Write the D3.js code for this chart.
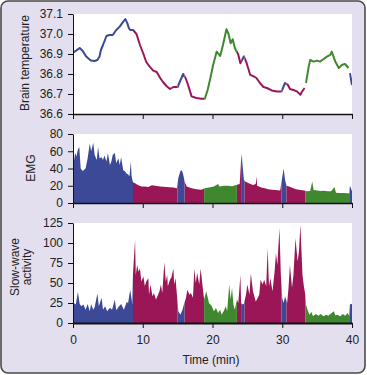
<!DOCTYPE html>
<html><head><meta charset="utf-8">
<script src="https://cdn.jsdelivr.net/npm/d3@7"></script>
<style>
body{margin:0;background:#fff}
text{font-family:"Liberation Sans",Arial,sans-serif}
</style>
</head><body><svg id="c" width="367" height="375"></svg>
<script>
// Sleep stages (shared by all panels)
const stageStart = [0, 8.6, 15.0, 16.0, 18.8, 23.5, 24.1, 24.6, 29.9, 30.6, 33.3, 39.6];
const stageEnd   = [8.6, 15.0, 16.0, 18.8, 23.5, 24.1, 24.6, 29.9, 30.6, 33.3, 39.6, 40];
const stageType  = ["wake","sws","wake","sws","rem","sws","wake","sws","wake","sws","rem","wake"];
const stageColor = {wake:"#3b4997", sws:"#9b1656", rem:"#3f8830"};

// Brain temperature (°C); null = gap in recording
const tempTime  = [0,0.5,0.96,1.4,1.9,2.3,2.6,3.1,3.5,3.8,4.0,4.3,4.8,5.2,5.7,6.2,6.7,7.1,7.5,7.8,8.0,8.2,8.6,9.1,9.6,10.1,10.5,11.0,11.5,12.0,12.5,12.9,13.4,13.9,14.4,15.0,15.3,15.8,16.2,16.5,17.0,17.7,18.4,18.9,19.3,19.7,20.1,20.6,21.1,21.5,22.0,22.3,22.6,22.9,23.2,23.7,24.0,24.5,24.9,25.4,25.9,26.3,26.8,27.3,27.8,28.5,29.2,29.9,30.4,30.8,31.1,31.6,32.1,32.6,32.8,33.2,33.3,33.4,33.8,34.0,34.5,35.0,35.4,35.9,36.4,36.9,37.1,37.6,38.1,38.6,39.0,39.5,39.6,39.7,40];
const tempValue = [36.907,36.918,36.93,36.915,36.887,36.875,36.867,36.865,36.87,36.887,36.92,36.945,36.99,36.995,36.995,37.02,37.037,37.057,37.075,37.053,37.03,37.02,37.02,37.0,36.945,36.90,36.86,36.837,36.817,36.81,36.78,36.76,36.74,36.725,36.735,36.735,36.76,36.8,36.775,36.745,36.688,36.68,36.676,36.676,36.72,36.78,36.846,36.912,36.89,36.945,37.024,37.0,36.954,36.974,36.93,36.896,36.854,36.888,36.854,36.796,36.788,36.78,36.755,36.735,36.73,36.718,36.713,36.713,36.755,36.746,36.725,36.72,36.713,36.696,36.71,36.73,null,36.755,36.838,36.87,36.862,36.867,36.862,36.874,36.887,36.896,36.912,36.862,36.83,36.846,36.85,36.83,null,36.804,36.745];

// EMG
const emgTime  = [0,0.3,0.5,0.7,0.9,1.1,1.4,1.8,2.1,2.4,2.6,2.9,3.1,3.4,3.6,3.8,4.1,4.3,4.5,4.8,5.0,5.3,5.5,5.7,6.0,6.2,6.5,6.7,6.9,7.2,7.4,7.7,7.9,8.1,8.3,8.4,8.6,8.9,9.3,9.8,10.3,10.8,11.3,11.8,12.5,13.4,14.4,14.9,15.1,15.4,15.6,15.8,16.0,16.3,17.0,17.7,18.4,18.9,19.5,20.2,20.8,21.0,21.6,22.2,22.8,23.4,23.9,24.1,24.2,24.3,24.5,24.7,25.2,25.8,26.2,26.3,26.4,27.0,27.5,28.0,28.5,29.0,29.7,30.0,30.2,30.4,30.6,31.0,31.5,32.0,32.6,33.2,33.5,34.0,34.3,34.5,35.0,35.5,36.0,36.5,37.0,37.5,37.7,38.2,38.8,39.4,39.6,39.7,39.85,40];
const emgValue = [40,58,54,62,65,40,37,40,52,69,60,70,56,50,65,52,53,50,55,48,58,44,48,56,58,46,52,44,53,38,37,34,33,31,48,31,24,23,21,19,19,18.5,20.5,20,19,18.5,18,17,29,37,38,33,25,19,17,16,15.5,17,18,19,22,19,20,20,19.5,21,22,50,57,45,27,25,23,21,22,31,20,18,17,16,15.5,15,14.5,30,40,27,20,19,17.5,16,15,14.5,13.5,14,25,15,14.5,14,14.2,13.5,13.5,18.5,12,11.5,11.5,11.2,11,20,17,13.5];

// Slow-wave activity
const swaTime  = [0,0.1,0.4,0.7,0.96,1.2,1.5,1.8,2.1,2.4,2.6,2.9,3.1,3.5,3.7,4.1,4.3,4.6,4.9,5.3,5.6,6.0,6.2,6.6,6.9,7.3,7.7,7.9,8.2,8.5,8.6,8.9,9.0,9.2,9.4,9.6,9.8,10.1,10.3,10.5,10.8,10.9,11.1,11.4,11.6,11.9,12.1,12.4,12.6,12.8,13.1,13.3,13.5,13.6,13.9,14.1,14.4,14.5,14.7,14.9,15.1,15.4,15.7,15.9,16.2,16.4,16.7,16.9,17.2,17.4,17.6,17.8,18.1,18.3,18.5,18.8,19.1,19.5,19.9,20.2,20.5,20.8,21.1,21.3,21.6,21.9,22.1,22.4,22.6,22.8,23.0,23.2,23.5,23.7,24.0,24.1,24.3,24.5,24.8,25.0,25.3,25.5,25.8,26.0,26.2,26.5,26.7,26.9,27.2,27.4,27.7,27.9,28.1,28.3,28.6,28.9,29.1,29.3,29.6,29.8,30.0,30.2,30.4,30.7,30.9,31.1,31.4,31.6,31.9,32.2,32.4,32.6,32.9,33.1,33.3,33.4,33.7,33.9,34.2,34.4,34.8,35.2,35.5,35.9,36.3,36.6,36.9,37.4,37.6,37.9,38.3,38.7,39.0,39.4,39.6,39.7,40];
const swaValue = [22,25,23,38.8,23.8,21,23,16.6,23.8,14.6,23.8,16.6,19.6,37,21,31.6,16.6,21,14.6,19.1,16.6,29.5,15.8,21,23.8,16.6,26.2,25,41.6,23.8,62,104,60,72.5,64,68,52,58,46,52,56,35.4,48,33.4,37.5,29.5,33.4,39.6,48,37.5,75.8,52,60,46,54,57,68,48,56,35,14.6,10.4,16.6,23,31.6,41.6,35.4,37.5,31.6,68,50,62.4,48,68,52,29.5,39.6,25,21,14.6,18.7,12.5,16.6,10.4,14.6,21,14.6,48,29.5,44,23,16.6,29.5,25,60,25,23,24,35.4,48,35.4,62,39.6,33.4,27,31.6,35.4,54,48,54,46,93.7,46,56,39.6,64,87.5,72.5,118.7,60,31,25,33.4,25,44,72.5,44,60,106,77,89.6,122.9,60,46,35.4,23,14.6,10.4,13.7,8.3,11.2,9,11.2,8.3,10.4,9,11.2,14.6,9.6,10.4,8.3,11.2,9,12.5,8.3,23,24];

const xTicks = [0,10,20,30,40];
const tempTicks = [36.6,36.7,36.8,36.9,37.0,37.1];
const emgTicks = [0,20,40,60,80];
const swaTicks = [0,25,50,75,100,125];

const svg = d3.select("#c");
svg.append("rect").attr("x",1).attr("y",1).attr("width",364).attr("height",372)
  .attr("rx",7).attr("fill","#e3dfee").attr("stroke","#4a4a4a").attr("stroke-width",1.6);

const x = d3.scaleLinear().domain([0,40]).range([73,352]);
const stages = stageStart.map((s,i)=>({s, e:stageEnd[i], c:stageColor[stageType[i]]}));

const panels = [
  {key:"temp", y:d3.scaleLinear().domain([36.6,37.1]).range([114,14]), ticks:tempTicks, fmt:d3.format(".1f")},
  {key:"emg", y:d3.scaleLinear().domain([0,80]).range([203,134]), ticks:emgTicks, fmt:d3.format("d")},
  {key:"swa", y:d3.scaleLinear().domain([0,125]).range([323,223]), ticks:swaTicks, fmt:d3.format("d")}
];

const defs = svg.append("defs");
panels.forEach((p,pi)=>{
  const [y0,y1] = p.y.range();
  svg.append("rect").attr("x",x(0)).attr("y",y1).attr("width",x(40)-x(0)).attr("height",y0-y1).attr("fill","#fff");
  stages.forEach((st,si)=>{
    defs.append("clipPath").attr("id",`c${pi}_${si}`).append("rect")
      .attr("x",x(st.s)).attr("y",0).attr("width",x(st.e)-x(st.s)).attr("height",375);
  });
});

// temperature line
const tData = tempTime.map((t,i)=>({t, v:tempValue[i]}));
const line = d3.line().defined(d=>d.v!==null).x(d=>x(d.t)).y(d=>panels[0].y(d.v));
stages.forEach((st,si)=>{
  svg.append("path").datum(tData).attr("clip-path",`url(#c0_${si})`)
    .attr("d",line).attr("fill","none").attr("stroke",st.c).attr("stroke-width",2).attr("stroke-linejoin","round");
});

function drawArea(pi, times, values){
  const data = times.map((t,i)=>({t, v:values[i]}));
  const ys = panels[pi].y;
  const area = d3.area().x(d=>x(d.t)).y0(ys(0)).y1(d=>ys(d.v));
  stages.forEach((st,si)=>{
    svg.append("path").datum(data).attr("clip-path",`url(#c${pi}_${si})`)
      .attr("d",area).attr("fill",st.c);
  });
}
drawArea(1, emgTime, emgValue);
drawArea(2, swaTime, swaValue);

panels.forEach((p,pi)=>{
  const ya = svg.append("g").attr("transform",`translate(${x(0)},0)`)
    .call(d3.axisLeft(p.y).tickValues(p.ticks).tickFormat(p.fmt).tickSize(5).tickPadding(5).tickSizeOuter(0));
  const xa = svg.append("g").attr("transform",`translate(0,${p.y.range()[0]})`)
    .call(d3.axisBottom(x).tickValues(xTicks).tickSize(5).tickPadding(7).tickSizeOuter(0)
      .tickFormat(pi===2 ? d3.format("d") : ()=>""));
  [ya,xa].forEach(a=>{
    a.selectAll("text").attr("font-size",12).attr("fill","#222").style("font-family","'Liberation Sans',Arial,sans-serif");
    a.selectAll("line,path").attr("stroke","#111");
  });
  xa.select(".domain").attr("stroke-width", pi===2 ? 2 : 1.3);
});

function vlabel(lines, cx, cy){
  const t = svg.append("text").attr("transform",`translate(${cx},${cy}) rotate(-90)`)
    .attr("text-anchor","middle").attr("font-size",12).attr("fill","#222");
  lines.forEach((l,i)=>t.append("tspan").attr("x",0).attr("y",i*12.5).text(l));
}
vlabel(["Brain temperature"], 28.5, 63);
vlabel(["EMG"], 35, 168);
vlabel(["Slow-wave","activity"], 18.5, 267);

svg.append("text").attr("x",211).attr("y",364).attr("text-anchor","middle")
  .attr("font-size",12).attr("fill","#222").text("Time (min)");
</script>
</body></html>
